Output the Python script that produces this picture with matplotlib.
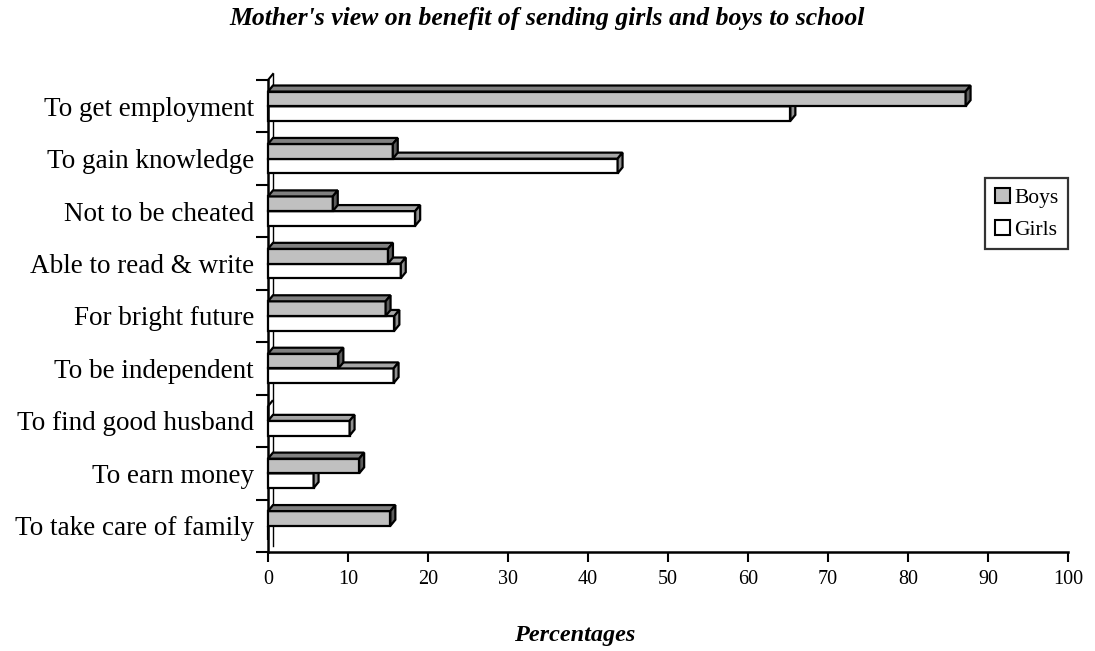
import numpy as np
import matplotlib.pyplot as plt
from matplotlib.patches import Polygon, Patch

plt.rcParams['font.family'] = ['Liberation Serif', 'DejaVu Serif']

# reasons, top to bottom
reasons = ['To get employment', 'To gain knowledge', 'Not to be cheated',
           'Able to read & write', 'For bright future', 'To be independent',
           'To find good husband', 'To earn money', 'To take care of family']
boys = [87.2, 15.6, 8.1, 15.0, 14.7, 8.8, 0.0, 11.4, 15.3]
girls = [65.3, 43.7, 18.4, 16.6, 15.8, 15.7, 10.2, 5.7, 0.0]

h = 0.28      # bar thickness (category units)
dx = 0.62     # depth offset along x (data units)
dy = 0.115    # depth offset along y (category units)


def bar3d(ax, y0, v, front, top, side, z):
    # y0 = top edge of front face (axis inverted, so top is smaller y)
    y1 = y0 + h
    kw = dict(edgecolor='black', lw=1.6, joinstyle='miter', clip_on=False, zorder=z)
    ax.add_patch(Polygon([(0, y0), (v, y0), (v, y1), (0, y1)], facecolor=front, **kw))
    ax.add_patch(Polygon([(0, y0), (v, y0), (v + dx, y0 - dy), (dx, y0 - dy)],
                         facecolor=top, **kw))
    if v > 0:
        ax.add_patch(Polygon([(v, y0), (v + dx, y0 - dy), (v + dx, y1 - dy), (v, y1)],
                             facecolor=side, **kw))


fig = plt.figure(figsize=(10.95, 6.51), dpi=100)
ax = fig.add_axes([268/1095, 1 - 552/651, 800/1095, (552 - 80)/651])

n = len(reasons)
for i in range(n):
    bar3d(ax, i, girls[i], 'white', '#a6a6a6', '#909090', 2 + 2*i)
    bar3d(ax, i - h, boys[i], '#c0c0c0', '#808080', '#5c5c5c', 3 + 2*i)

# side wall on the left
ax.plot([dx, dx], [-0.5 - dy, n - 0.5 - dy], color='black', lw=1.0, clip_on=False, zorder=1)
ax.plot([0, dx], [-0.5, -0.5 - dy], color='black', lw=1.5, clip_on=False, zorder=1)

ax.set_xlim(0, 100)
ax.set_ylim(n - 0.5, -0.5)
ax.set_xticks(np.arange(0, 101, 10))
ax.set_yticks(np.arange(-0.5, n, 1))
ax.set_yticklabels([])
ax.set_yticks(np.arange(n), minor=True)
ax.set_yticklabels(reasons, minor=True, fontsize=19.5)
ax.tick_params(axis='y', which='major', length=9, width=1.5, direction='out')
ax.tick_params(axis='y', which='minor', length=0, pad=10)
ax.tick_params(axis='x', length=7, width=1.5, direction='out', labelsize=14.5, pad=6)
for s in ['top', 'right']:
    ax.spines[s].set_visible(False)
for s in ['left', 'bottom']:
    ax.spines[s].set_linewidth(1.8)

handles = [Patch(facecolor='#c0c0c0', edgecolor='black', lw=1.5, label='Boys'),
           Patch(facecolor='white', edgecolor='black', lw=1.5, label='Girls')]
leg = fig.legend(handles=handles, loc='upper left', bbox_to_anchor=(985/1095, 1 - 178/651),
                 fontsize=15.5, frameon=True, fancybox=False, handlelength=0.7,
                 handleheight=0.7, handletextpad=0.2, borderpad=0.45, labelspacing=0.55,
                 borderaxespad=0)
leg.get_frame().set_edgecolor('black')
leg.get_frame().set_linewidth(1.6)

fig.text(0.5, 1 - 18/651, "Mother's view on benefit of sending girls and boys to school",
         ha='center', va='center', fontsize=18.5, fontweight='bold', style='italic')
fig.text(0.525, 1 - 636/651, 'Percentages', ha='center', va='center',
         fontsize=17.5, fontweight='bold', style='italic')

fig.savefig('out.png', dpi=100)
